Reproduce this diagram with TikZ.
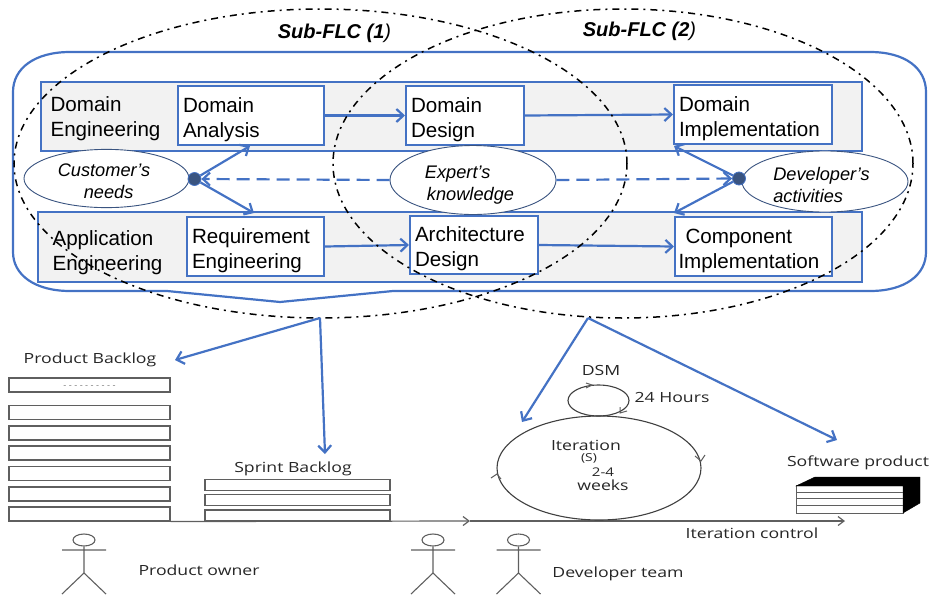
\documentclass[tikz,border=0pt]{standalone}
\usepackage{fontspec}
\setmainfont{Liberation Sans}
\newfontfamily\opensans[FakeStretch=1.26]{Open Sans}
\usetikzlibrary{arrows.meta,shapes.geometric,calc}
\definecolor{flc_blue}{RGB}{68, 114, 196}
\definecolor{flc_band}{RGB}{242, 242, 242}
\definecolor{flc_dot}{RGB}{58, 84, 128}
\definecolor{flc_grey}{RGB}{95, 95, 95}
\newcommand{\lift}{\rule{0pt}{23pt}}
\tikzstyle{band}=[rectangle,fill=flc_band,draw=flc_blue,line width=2pt,inner sep=0pt]
\tikzstyle{bx}=[rectangle,fill=white,draw=flc_blue,line width=2pt,inner sep=0pt,
  font=\fontsize{20.6}{25}\selectfont,align=left]
\tikzstyle{lbl}=[inner sep=0pt,font=\fontsize{20.6}{25}\selectfont,align=left]
\tikzstyle{need}=[ellipse,fill=white,draw=flc_dot,line width=0.9pt,inner sep=0pt,
  font=\fontsize{18.2}{22}\selectfont\itshape,align=left]
\tikzstyle{hub}=[circle,fill=flc_dot,draw=flc_blue,line width=0.8pt,inner sep=0pt,minimum size=13pt]
\tikzstyle{flc}=[ellipse,draw=black,line width=1.5pt,inner sep=0pt,
  dash pattern=on 7pt off 5pt on 2pt off 5pt]
\tikzstyle{flow}=[draw=flc_blue,line width=2.2pt,-{Straight Barb[length=7pt,width=13pt]}]
\tikzstyle{dflow}=[style=flow,dash pattern=on 13pt off 7pt]
\tikzstyle{row}=[rectangle,fill=white,draw=flc_grey,line width=1.1pt,inner sep=0pt]
\tikzstyle{sc}=[inner sep=0pt,text=black!85,font=\opensans\fontsize{14}{15}\selectfont]
\tikzstyle{head}=[ellipse,draw=flc_grey,line width=1.1pt,inner sep=0pt,minimum width=22pt,minimum height=12pt]
\tikzstyle{lim}=[draw=flc_grey,line width=1.1pt]
\tikzstyle{tick}=[draw=flc_grey,line width=1pt]
\begin{document}
\begin{tikzpicture}[x=1pt,y=-1pt]
        \useasboundingbox (0,0) rectangle (930,595);
        % outer frame
        \draw[draw=flc_blue,line width=2.2pt] (70,52) -- (870,52)
          .. controls (905,52) and (926,68) .. (926,92) -- (926,252)
          .. controls (926,275) and (905,291) .. (870,291) -- (393,291)
          -- (280,302) -- (167,291) -- (70,291)
          .. controls (35,291) and (13,275) .. (13,252) -- (13,92)
          .. controls (13,68) and (35,52) .. (70,52) -- cycle;
        \node[style=band,minimum width=821pt,minimum height=69pt] (b1) at (451.5,116.5) {};
        \node[style=band,minimum width=824pt,minimum height=70pt] (b2) at (450,247) {};
        \node[style=lbl] (l1) at (105.5,115) {\lift Domain\\Engineering};
        \node[style=lbl] (l2) at (107.5,248.5) {\lift Application\\Engineering};
        % boxes
        \node[style=bx,minimum width=146pt,minimum height=59pt,text width=136pt] (da) at (251,115.5) {\lift Domain\\Analysis};
        \node[style=bx,minimum width=118pt,minimum height=59pt,text width=108pt] (dd) at (465,115.5) {\lift Domain\\Design};
        \node[style=bx,minimum width=158pt,minimum height=59pt,text width=148pt] (di) at (753,114.5) {\lift Domain\\Implementation};
        \node[style=bx,minimum width=137pt,minimum height=59pt,text width=127pt] (re) at (255.5,246.5) {\lift Requirement\\Engineering};
        \node[style=bx,minimum width=128pt,minimum height=58pt,text width=118pt] (ad) at (474,245) {\lift Architecture\\Design};
        \node[style=bx,minimum width=157pt,minimum height=59pt,text width=150pt] (ci) at (753.5,246.5) {\lift\hspace{7pt}Component\\Implementation};
        % sources
        \node[style=need,minimum width=165pt,minimum height=51pt] (cn) at (106.5,178.5) {\rule{0pt}{19pt}Customer's\hspace{5pt}\mbox{}\\\hspace{26pt}needs};
        \node[style=need,minimum width=166pt,minimum height=51pt] (ek) at (473,180) {\lift Expert's\\\hspace{2pt}knowledge\hspace{7pt}\mbox{}};
        \node[style=need,minimum width=166pt,minimum height=51pt] (da2) at (825,181.5) {\rule{0pt}{21pt}Developer's\hspace{7pt}\mbox{}\\activities};
        \node[style=hub] (h1) at (194.5,179) {};
        \node[style=hub] (h2) at (739,178.5) {};
        \draw[style=flow] (da.east) to (dd.west);
        \draw[style=flow] (dd.east) to (di.west);
        \draw[style=flow] (re.east) to (ad.west);
        \draw[style=flow] (ad.east) to (ci.west);
        \draw[style=flow] (h1) to (250,146);
        \draw[style=flow] (h1) to (254,213);
        \draw[style=flow] (h2) to (674,146);
        \draw[style=flow] (h2) to (674,213);
        \draw[style=dflow] (ek.west) to (h1.east);
        \draw[style=dflow] (ek.east) to (h2.west);
        % sub life cycles
        \node[style=flc,minimum width=613pt,minimum height=309pt] (s1) at (320.5,163.5) {};
        \node[style=flc,minimum width=580pt,minimum height=309pt] (s2) at (623,163.5) {};
        \node[inner sep=0pt,font=\fontsize{20}{22}\selectfont\bfseries\itshape] (t1) at (334.5,33) {Sub-FLC (1\textmd{)}};
        \node[inner sep=0pt,font=\fontsize{20}{22}\selectfont\bfseries\itshape] (t2) at (639.5,31) {Sub-FLC (2\textmd{)}};
        % backlogs
        \node[style=sc] (pb) at (90,360) {Product Backlog};
        \node[style=row,minimum width=161pt,minimum height=14pt] (p0) at (89.5,385) {};
        \node[text=gray,inner sep=0pt,font=\fontsize{9}{9}\selectfont] (pd) at (89.5,387) {- - - - - - - - - -};
        \node[style=row,minimum width=161pt,minimum height=14pt] (p1) at (89.5,412.5) {};
        \node[style=row,minimum width=161pt,minimum height=14pt] (p2) at (89.5,433) {};
        \node[style=row,minimum width=161pt,minimum height=14pt] (p3) at (89.5,453) {};
        \node[style=row,minimum width=161pt,minimum height=14pt] (p4) at (89.5,473.5) {};
        \node[style=row,minimum width=161pt,minimum height=14pt] (p5) at (89.5,494) {};
        \node[style=row,minimum width=161pt,minimum height=14pt] (p6) at (89.5,514) {};
        \node[style=sc] (sb) at (293,469) {Sprint Backlog};
        \node[style=row,minimum width=185pt,minimum height=11pt] (q0) at (297.5,485) {};
        \node[style=row,minimum width=185pt,minimum height=11pt] (q1) at (297.5,500) {};
        \node[style=row,minimum width=185pt,minimum height=11pt] (q2) at (297.5,515.5) {};
        % time line
        \coordinate (a0) at (470,521);
        \coordinate (a1) at (845,521);
        \draw[draw=flc_grey,line width=1.2pt,-{Straight Barb[length=6pt,width=9pt]}] (p6.south east) to (a0);
        \draw[draw=flc_grey,line width=1.2pt,-{Straight Barb[length=6pt,width=9pt]}] (a0) to (a1);
        \node[style=sc] (ic) at (752,533) {Iteration control};
        % iteration
        \node[ellipse,draw=black!75,line width=1.1pt,inner sep=0pt,minimum width=204pt,minimum height=104pt] (it) at (599,468) {};
        \node[ellipse,draw=black!75,line width=1.1pt,inner sep=0pt,minimum width=61pt,minimum height=31pt] (ds) at (598.5,400.5) {};
        \draw[style=tick] (586,383) -- (592,385) -- (586,388);
        \draw[style=tick] (620,407) -- (620,413) -- (627,411);
        \draw[style=tick] (695,456) -- (701,461) -- (705,455);
        \draw[style=tick] (491,478) -- (497,474) -- (501,479);
        \node[style=sc] (dm) at (601,370) {DSM};
        \node[style=sc] (hr) at (672,397) {24 Hours};
        \node[style=sc] (i1) at (586,445) {Iteration};
        \node[style=sc,font=\opensans\fontsize{11}{12}\selectfont] (i2) at (589,458) {(S)};
        \node[style=sc,font=\opensans\fontsize{12}{12}\selectfont] (i3) at (603,472) {2-4};
        \node[style=sc] (i4) at (603,485) {weeks};
        % product
        \node[style=sc] (sp) at (858,463) {Software product};
        \node[rectangle,fill=white,draw=flc_grey,line width=1pt,inner sep=0pt,minimum width=107pt,minimum height=28pt] (pr) at (849.5,499.5) {};
        \draw[fill=black,draw=black] (796,486) -- (815,477) -- (920,477) -- (920,503) -- (903,513) -- (903,486) -- cycle;
        \draw[draw=flc_grey,line width=1pt] (796,492) -- (903,492);
        \draw[draw=flc_grey,line width=1pt] (796,498.5) -- (903,498.5);
        \draw[draw=flc_grey,line width=1pt] (796,505) -- (903,505);
        % team
        \node[style=head] (m1) at (84,540) {};
        \draw[style=lim] (m1.south) -- (84,573) (62,550) -- (106,550) (62,594) -- (84,573) -- (106,594);
        \node[style=head] (m2) at (433,540) {};
        \draw[style=lim] (m2.south) -- (433,573) (411,550) -- (455,550) (411,594) -- (433,573) -- (455,594);
        \node[style=head] (m3) at (518.5,540) {};
        \draw[style=lim] (m3.south) -- (518.5,573) (496.5,550) -- (540.5,550) (496.5,594) -- (518.5,573) -- (540.5,594);
        \node[style=sc] (po) at (199,570) {Product owner};
        \node[style=sc] (dt) at (618,574) {Developer team};
        % work split
        \coordinate (c1) at (320,318);
        \coordinate (c2) at (588,318);
        \draw[style=flow] (c1) to (175,360);
        \draw[style=flow] (c1) to (325,454);
        \draw[style=flow] (c2) to (522,422);
        \draw[style=flow] (c2) to (837,440);
    \end{tikzpicture}
\end{document}
